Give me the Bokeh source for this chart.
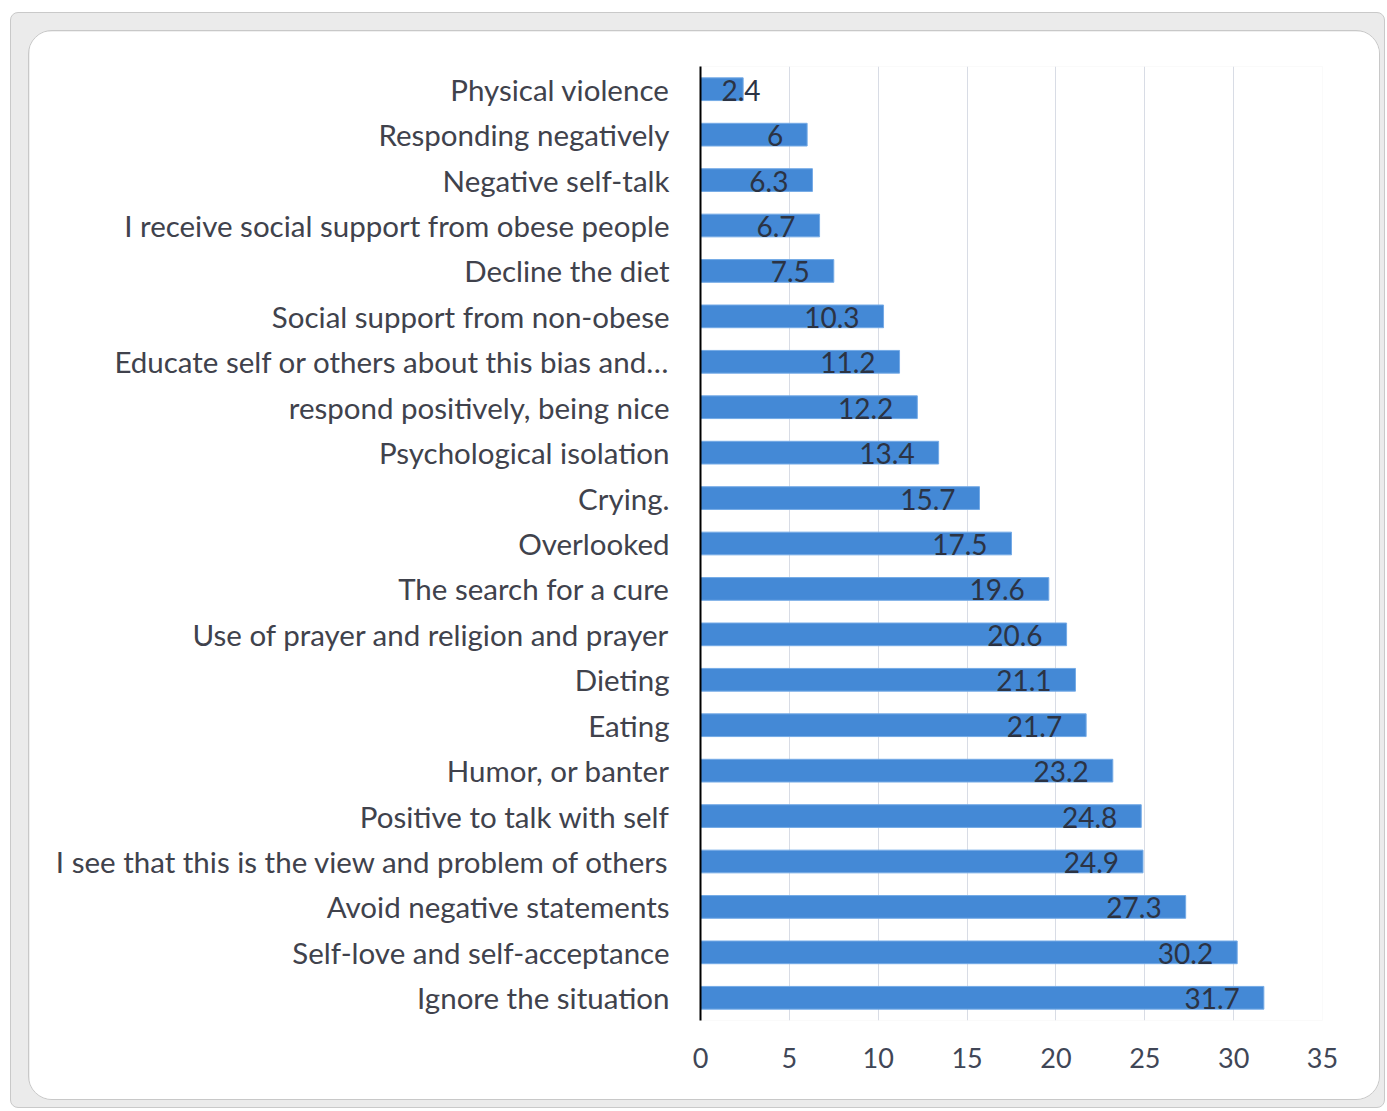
from bokeh.plotting import figure
from bokeh.models import ColumnDataSource, FactorRange, Range1d, FixedTicker
from bokeh.layouts import column
from bokeh.embed import file_html
from bokeh.resources import INLINE
from bokeh.core.properties import value

categories = [
    "Physical violence",
    "Responding negatively",
    "Negative self-talk",
    "I receive social support from obese people",
    "Decline the diet",
    "Social support from non-obese",
    "Educate self or others about this bias and\u2026",
    "respond positively, being nice",
    "Psychological isolation",
    "Crying.",
    "Overlooked",
    "The search for a cure",
    "Use of prayer and religion and prayer",
    "Dieting",
    "Eating",
    "Humor, or banter",
    "Positive to talk with self",
    "I see that this is the view and problem of others",
    "Avoid negative statements",
    "Self-love and self-acceptance",
    "Ignore the situation",
]
values = [2.4, 6, 6.3, 6.7, 7.5, 10.3, 11.2, 12.2, 13.4, 15.7, 17.5,
          19.6, 20.6, 21.1, 21.7, 23.2, 24.8, 24.9, 27.3, 30.2, 31.7]
x_ticks = [0, 5, 10, 15, 20, 25, 30, 35]

FONT = "Lato"
labels = [f"{v:g}" for v in values]

src = ColumnDataSource(dict(cat=categories, val=values, lab=labels))
long_idx = [i for i, v in enumerate(values) if v >= 4]
short_idx = [i for i, v in enumerate(values) if v < 4]
src_long = ColumnDataSource(dict(cat=[categories[i] for i in long_idx],
                                 val=[values[i] for i in long_idx],
                                 lab=[labels[i] for i in long_idx]))
src_short = ColumnDataSource(dict(cat=[categories[i] for i in short_idx],
                                  val=[0 for i in short_idx],
                                  lab=[labels[i] for i in short_idx]))

p = figure(width=1352, height=1070,
           x_range=Range1d(0, 35),
           y_range=FactorRange(factors=categories[::-1], range_padding=0),
           output_backend="svg", toolbar_location=None,
           min_border_left=671, min_border_right=59,
           min_border_top=35, min_border_bottom=81,
           styles={"border-radius": "24px", "border": "1px solid #c8c8c8",
                   "overflow": "hidden"})
p.outline_line_color = None
p.background_fill_color = "white"
p.border_fill_color = "white"

p.hbar(y="cat", left=0, right="val", height=0.5, source=src,
       fill_color="#4489d6", line_color="#74aae6", line_width=1)

p.text(x="val", y="cat", text="lab", source=src_long, text_align="right",
       text_baseline="middle", x_offset=-24, y_offset=1,
       text_font=value(FONT), text_font_size="28px", text_color="#2b3344")
p.text(x="val", y="cat", text="lab", source=src_short, text_align="left",
       text_baseline="middle", x_offset=21, y_offset=1,
       text_font=value(FONT), text_font_size="28px", text_color="#2b3344")

p.xaxis.ticker = FixedTicker(ticks=x_ticks)
p.xaxis.axis_line_color = None
p.xaxis.major_tick_line_color = None
p.xaxis.minor_tick_line_color = None
p.xaxis.major_label_text_font = FONT
p.xaxis.major_label_text_font_size = "27px"
p.xaxis.major_label_text_color = "#404656"
p.xaxis.major_label_standoff = 21

p.yaxis.axis_line_color = "black"
p.yaxis.axis_line_width = 2
p.yaxis.major_tick_line_color = None
p.yaxis.minor_tick_line_color = None
p.yaxis.major_label_text_font = FONT
p.yaxis.major_label_text_font_size = "29.5px"
p.yaxis.major_label_text_color = "#40424c"
p.yaxis.major_label_standoff = 25

p.xgrid.grid_line_color = "#d8dce5"
p.xgrid.grid_line_width = 1
p.ygrid.grid_line_color = None

layout = column(p, styles={"margin-left": "10px", "margin-top": "12px",
                           "background-color": "#ebebeb",
                           "border": "1px solid #c9c9c9",
                           "border-radius": "8px",
                           "padding": "17px 4px 7px 17px"})

open("out.html", "w").write(file_html(layout, INLINE))
